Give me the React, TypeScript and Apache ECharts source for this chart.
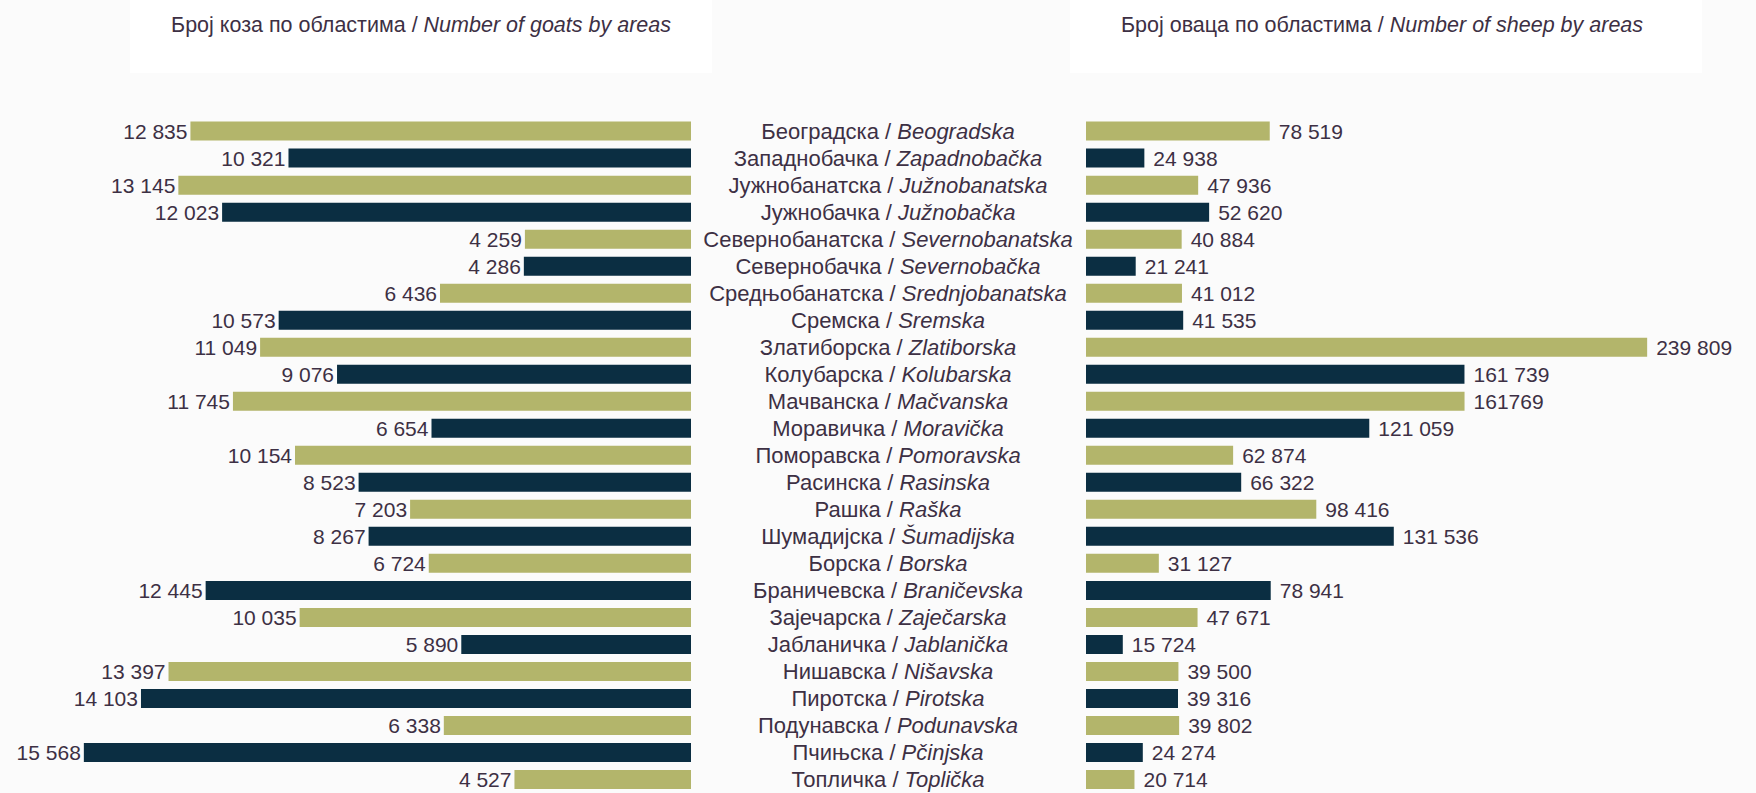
import React, { useEffect, useRef } from "react";
import * as echarts from "echarts";

const regionsCyr = [
  "Београдска", "Западнобачка", "Јужнобанатска", "Јужнобачка", "Севернобанатска",
  "Севернобачка", "Средњобанатска", "Сремска", "Златиборска", "Колубарска",
  "Мачванска", "Моравичка", "Поморавска", "Расинска", "Рашка",
  "Шумадијска", "Борска", "Браничевска", "Зајечарска", "Јабланичка",
  "Нишавска", "Пиротска", "Подунавска", "Пчињска", "Топличка",
];
const regionsLat = [
  "Beogradska", "Zapadnobačka", "Južnobanatska", "Južnobačka", "Severnobanatska",
  "Severnobačka", "Srednjobanatska", "Sremska", "Zlatiborska", "Kolubarska",
  "Mačvanska", "Moravička", "Pomoravska", "Rasinska", "Raška",
  "Šumadijska", "Borska", "Braničevska", "Zaječarska", "Jablanička",
  "Nišavska", "Pirotska", "Podunavska", "Pčinjska", "Toplička",
];
const goats = [
  12835, 10321, 13145, 12023, 4259, 4286, 6436, 10573, 11049, 9076, 11745, 6654,
  10154, 8523, 7203, 8267, 6724, 12445, 10035, 5890, 13397, 14103, 6338, 15568, 4527,
];
const sheep = [
  78519, 24938, 47936, 52620, 40884, 21241, 41012, 41535, 239809, 161739, 161769, 121059,
  62874, 66322, 98416, 131536, 31127, 78941, 47671, 15724, 39500, 39316, 39802, 24274, 20714,
];
// label written without thousands space in the source
const sheepLabelOverride: Record<number, string> = { 10: "161769" };

const titleGoatsCyr = "Број коза по областима / ";
const titleGoatsLat = "Number of goats by areas";
const titleSheepCyr = "Број оваца по областима / ";
const titleSheepLat = "Number of sheep by areas";

const OLIVE = "#b3b56b";
const NAVY = "#0b2e42";
const TEXT = "#3d3044";
const FONT = '"Liberation Sans", Arial, Helvetica, sans-serif';

const fmt = (v: number) => String(v).replace(/\B(?=(\d{3})+(?!\d))/g, " ");

export default function App() {
  const ref = useRef<HTMLDivElement>(null);
  useEffect(() => {
    if (!ref.current) return;
    const chart = echarts.init(ref.current, null, { renderer: "svg" });
    const gridTop = 117.6;
    const gridHeight = 678.5;
    const titleRich = {
      a: { fontSize: 21.5, fontFamily: FONT, fill: TEXT },
      b: { fontSize: 21.5, fontFamily: FONT, fill: TEXT, fontStyle: "italic" },
    };
    chart.setOption({
      animation: false,
      backgroundColor: "#fbfbfb",
      graphic: [
        { type: "rect", shape: { x: 130, y: 0, width: 582, height: 73 }, style: { fill: "#ffffff" }, z: 0 },
        { type: "rect", shape: { x: 1070, y: 0, width: 632, height: 73 }, style: { fill: "#ffffff" }, z: 0 },
        {
          type: "text", x: 421, y: 25, z: 1,
          style: { text: `{a|${titleGoatsCyr}}{b|${titleGoatsLat}}`, rich: titleRich, align: "center", verticalAlign: "middle" },
        },
        {
          type: "text", x: 1382, y: 25, z: 1,
          style: { text: `{a|${titleSheepCyr}}{b|${titleSheepLat}}`, rich: titleRich, align: "center", verticalAlign: "middle" },
        },
      ],
      grid: [
        { left: 67, top: gridTop, width: 624, height: gridHeight },
        { left: 1086, top: gridTop, width: 585, height: gridHeight },
      ],
      xAxis: [
        { gridIndex: 0, type: "value", min: 0, max: 16000, inverse: true, show: false },
        { gridIndex: 1, type: "value", min: 0, max: 250000, show: false },
      ],
      yAxis: [
        {
          gridIndex: 0,
          type: "category",
          data: regionsCyr,
          inverse: true,
          position: "right",
          axisLine: { show: false },
          axisTick: { show: false },
          splitLine: { show: false },
          axisLabel: {
            interval: 0,
            align: "center",
            margin: 197,
            formatter: (_v: string, i: number) => `{c|${regionsCyr[i]} / }{l|${regionsLat[i]}}`,
            rich: {
              c: { fontSize: 22, fontFamily: FONT, color: TEXT },
              l: { fontSize: 22, fontFamily: FONT, color: TEXT, fontStyle: "italic" },
            },
          },
        },
        { gridIndex: 1, type: "category", data: regionsCyr, inverse: true, show: false },
      ],
      series: [
        {
          type: "bar",
          xAxisIndex: 0,
          yAxisIndex: 0,
          data: goats,
          barWidth: 19,
          itemStyle: { color: (p: any) => (p.dataIndex % 2 ? NAVY : OLIVE) },
          label: {
            show: true,
            position: "left",
            distance: 3,
            formatter: (p: any) => fmt(p.value),
            color: TEXT,
            fontSize: 21,
            fontFamily: FONT,
          },
        },
        {
          type: "bar",
          xAxisIndex: 1,
          yAxisIndex: 1,
          data: sheep,
          barWidth: 19,
          itemStyle: { color: (p: any) => (p.dataIndex % 2 ? NAVY : OLIVE) },
          label: {
            show: true,
            position: "right",
            distance: 9,
            formatter: (p: any) => sheepLabelOverride[p.dataIndex] ?? fmt(p.value),
            color: TEXT,
            fontSize: 21,
            fontFamily: FONT,
          },
        },
      ],
    });
    return () => chart.dispose();
  }, []);
  return (
    <div style={{ position: "fixed", left: 0, top: 0, width: 1756, height: 793, overflow: "hidden", background: "#fbfbfb" }}>
      <div ref={ref} style={{ width: 1756, height: 793 }} />
    </div>
  );
}
